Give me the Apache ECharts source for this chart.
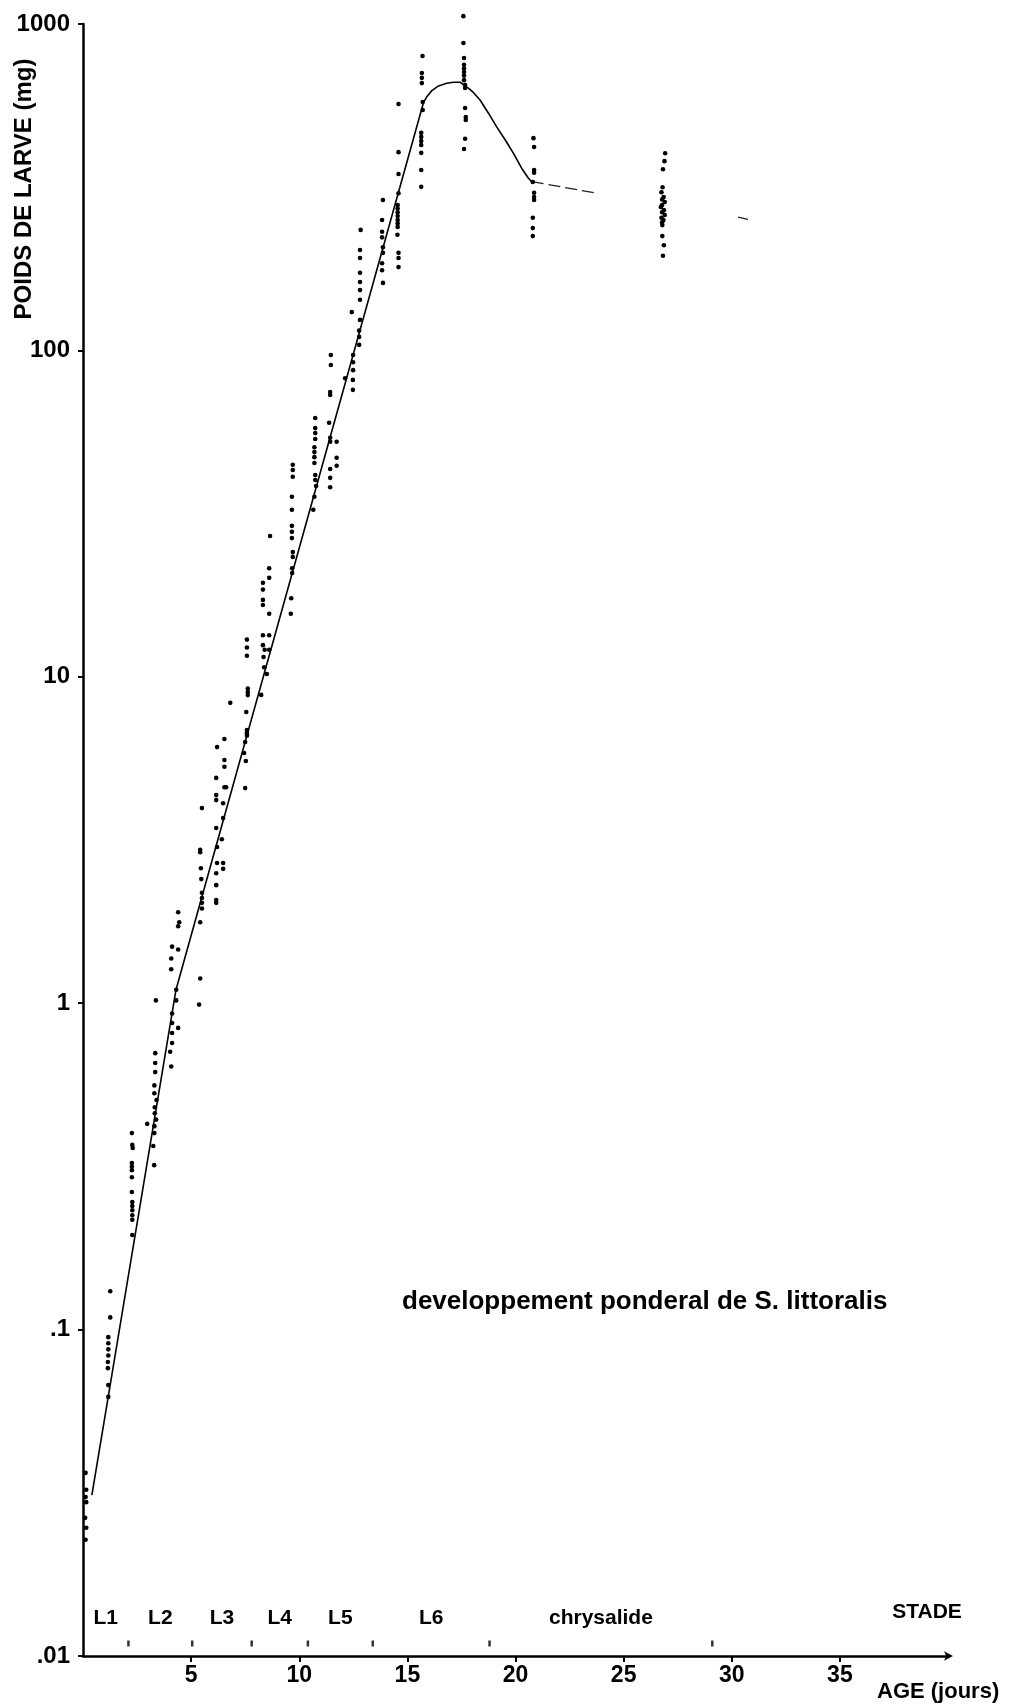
<!DOCTYPE html>
<html>
<head>
<meta charset="utf-8">
<title>developpement ponderal de S. littoralis</title>
<script src="https://cdn.jsdelivr.net/npm/echarts@6.0.0/dist/echarts.min.js"></script>
<style>
  html, body { margin: 0; padding: 0; background: #ffffff; }
  #chart { width: 1034px; height: 1708px; }
</style>
</head>
<body>
<div id="chart"></div>
<script>
// Individual larval / pupal weights (mg) against age (days)
const sampleDays = [
  // hatching
  0.12, 0.15, 0.12, 0.15, 0.1, 0.15, 0.12,
  // ~day 1
  1.26, 1.26, 1.17, 1.17, 1.17, 1.17, 1.15, 1.15, 1.17, 1.17,
  // ~day 2.3
  2.26, 2.28, 2.3, 2.26, 2.26, 2.26, 2.26, 2.26, 2.28, 2.28, 2.28, 2.28, 2.28, 2.28,
  // ~day 3.3
  3.37, 3.34, 3.34, 3.34, 3.3, 3.3, 3.4, 3.32, 3.32, 3.38, 3.3, 3.3, 2.97, 3.25, 3.29,
  // ~day 4.2
  4.4, 4.45, 4.4, 4.12, 4.4, 4.08, 4.08, 4.31, 4.31, 4.12, 4.12, 4.12, 4.12, 4.4, 4.03, 4.08,
  // ~day 5.4
  5.5, 5.42, 5.42, 5.45, 5.47, 5.5, 5.5, 5.5, 5.5, 5.42, 5.42, 5.37,
  // ~day 6.3
  6.2, 6.48, 6.16, 6.48, 6.16, 6.16, 6.16, 6.16, 6.2, 6.42, 6.48, 6.16, 6.16, 6.16,
  6.48, 6.54, 6.62, 6.54, 6.54, 6.2, 6.54, 6.81,
  // ~day 7.5
  7.58, 7.58, 7.58, 7.62, 7.62, 7.62, 7.55, 7.58, 7.58, 7.58, 7.5, 7.45, 7.53, 7.5,
  // ~day 8.4
  8.65, 8.61, 8.61, 8.32, 8.32, 8.32, 8.32, 8.61, 8.32, 8.61, 8.32, 8.4, 8.61, 8.35, 8.38, 8.5, 8.24,
  // ~day 9.7
  9.7, 9.7, 9.7, 9.66, 9.66, 9.66, 9.66, 9.66, 9.7, 9.7, 9.67, 9.67, 9.63, 9.61,
  // ~day 10.7
  10.74, 10.74, 10.74, 10.74, 10.7, 10.7, 10.7, 10.7, 10.74, 10.74, 10.78, 10.7, 10.65,
  // ~day 11.5
  11.38, 11.43, 11.43, 11.73, 11.73, 11.73, 11.43, 11.43, 11.43, 11.46, 11.46, 11.43, 11.43, 12.12,
  // ~day 12.5
  12.49, 12.49, 12.49, 12.48, 12.48, 12.43,
  // ~day 12.8
  12.77, 12.77, 12.77, 12.81, 12.81, 12.81, 12.81, 12.81, 12.84, 12.81, 12.81,
  // ~day 13.8
  13.87, 13.83, 13.83, 13.83, 13.87, 13.87, 13.83, 13.83, 13.87,
  // ~day 14.6
  14.59, 14.59, 14.59, 14.59, 14.55, 14.55, 14.55, 14.55, 14.55, 14.55, 14.55, 14.54, 14.59, 14.59, 14.59,
  // ~day 15.7
  15.7, 15.67, 15.67, 15.67, 15.71, 15.71, 15.64, 15.64, 15.64, 15.64, 15.64, 15.64, 15.64,
  // ~day 17.6
  17.59, 17.59, 17.62, 17.62, 17.62, 17.62, 17.62, 17.62, 17.67, 17.67, 17.67, 17.7, 17.7, 17.67, 17.62,
  // pupae ~day 20.8
  20.83, 20.86, 20.86, 20.86, 20.8, 20.86, 20.86, 20.86, 20.8, 20.8, 20.8,
  // pupae ~day 26.8
  26.92, 26.89, 26.82, 26.8, 26.75, 26.85, 26.78, 26.9, 26.78, 26.72, 26.86, 26.78, 26.9, 26.75,
  26.84, 26.78, 26.79, 26.79, 26.86, 26.82
];
const sampleWeights = [
  0.0364, 0.0323, 0.0307, 0.0296, 0.0265, 0.0247, 0.0227,
  0.131, 0.109, 0.0948, 0.0908, 0.087, 0.0833, 0.0796, 0.0762, 0.0676, 0.0622,
  0.4, 0.368, 0.36, 0.324, 0.316, 0.308, 0.293, 0.264, 0.246, 0.239, 0.232, 0.224, 0.217, 0.195,
  1.02, 0.703, 0.656, 0.615, 0.56, 0.53, 0.505, 0.48, 0.46, 0.44, 0.42, 0.4, 0.427, 0.365, 0.319,
  1.9, 1.77, 1.72, 1.49, 1.46, 1.37, 1.27, 1.1, 1.02, 0.93, 0.87, 0.81, 0.755, 0.84, 0.71, 0.64,
  3.96, 2.95, 2.9, 2.59, 2.4, 2.18, 2.1, 2.03, 1.95, 1.77, 1.19, 0.99,
  2.69, 2.69, 2.5, 2.58, 2.3, 2.07, 2.03, 3.44, 3.01, 3.18, 3.69, 4.9, 4.34, 4.19,
  4.1, 4.59, 4.59, 5.56, 5.3, 6.09, 6.45, 8.32,
  13.0, 12.3, 11.6, 9.2, 8.98, 8.79, 7.8, 6.87, 6.72, 6.6, 6.31, 5.84, 5.52, 4.56,
  27.0, 21.5, 20.1, 19.4, 18.5, 17.2, 16.6, 15.6, 13.4, 13.4, 12.5, 12.1, 12.1, 11.5, 10.7, 10.2, 8.8,
  44.6, 43.0, 41.0, 35.6, 32.5, 29.0, 27.8, 26.6, 24.1, 23.3, 21.5, 20.8, 17.4, 15.6,
  62.1, 57.8, 55.8, 53.5, 50.5, 48.8, 47.1, 45.2, 41.5, 40.1, 38.4, 35.6, 32.5,
  60.0, 54.0, 52.5, 52.5, 46.9, 44.3, 43.3, 40.7, 38.1, 96.8, 90.2, 74.6, 73.0, 82.2,
  96.8, 92.0, 87.0, 81.2, 75.7, 131,
  115, 110, 104, 124, 143, 153, 162, 173, 234, 203, 192,
  289, 251, 231, 222, 207, 199, 185, 176, 161,
  569, 405, 347, 303, 279, 272, 265, 258, 251, 245, 239, 226, 199, 192, 180,
  798, 708, 684, 659, 577, 545, 464, 451, 438, 426, 403, 357, 317,
  1057, 875, 787, 750, 730, 713, 695, 673, 650, 637, 553, 519, 508, 445, 414,
  447, 420, 357, 350, 328, 304, 295, 289, 255, 237, 224,
  402, 380, 359, 316, 305, 295, 290, 285, 279, 275, 269, 265, 260, 255,
  251, 247, 242, 224, 210, 195, 174
];

// Mean growth curve
const curveDays = [0.41, 4.3, 15.74, 15.9, 16.13, 16.44, 16.82, 17.13, 17.44, 17.82, 18.05,
  18.36, 18.75, 19.13, 19.52, 19.9, 20.29, 20.6, 20.75];
const curveWeights = [0.0311, 1.1, 573, 599, 625, 646, 658, 663, 663, 636, 617,
  585, 533, 484, 442, 402, 361, 337, 329];

// Pupal weight trend (interrupted)
const pupaDays = [20.75, 23.76, null, 30.29, 30.75];
const pupaWeights = [329, 303, null, 256, 252];

// Stage boundaries (days) and stage names
const stageBounds = [0, 2.1, 5.05, 7.8, 10.4, 13.4, 18.8, 29.1];
const stageNames = ['L1', 'L2', 'L3', 'L4', 'L5', 'L6', 'chrysalide'];

// Axis tick labels
const xTickValues = [5, 10, 15, 20, 25, 30, 35];
const yTickLabels = ['.01', '.1', '1', '10', '100', '1000'];

const FONT = "'Liberation Sans', Arial, Helvetica, sans-serif";

const samples = sampleDays.map((d, i) => [d, sampleWeights[i]]);
const curve = curveDays.map((d, i) => [d, curveWeights[i]]);
const pupa = pupaDays.map((d, i) => (d === null ? [null, null] : [d, pupaWeights[i]]));
const stageMarks = stageBounds.slice(1).map(d => [d, 0.01]);
const stageCentres = stageNames.map((n, i) => [(stageBounds[i] + stageBounds[i + 1]) / 2, 0.01]);

const chart = echarts.init(document.getElementById('chart'), null, { renderer: 'canvas' });

chart.setOption({
  animation: false,
  backgroundColor: '#ffffff',
  textStyle: { fontFamily: FONT, fontWeight: 'bold', color: '#000' },
  title: {
    text: 'developpement ponderal de S. littoralis',
    left: 402,
    top: 1289,
    padding: 0,
    textStyle: { fontFamily: FONT, fontWeight: 'bold', fontSize: 26, color: '#000' }
  },
  grid: { left: 83, right: 86, top: 24, bottom: 52, containLabel: false },
  xAxis: {
    type: 'value',
    min: 0,
    max: 40,
    interval: 5,
    name: 'AGE (jours)',
    nameLocation: 'end',
    nameGap: -71,
    nameTextStyle: {
      fontFamily: FONT, fontWeight: 'bold', fontSize: 22, color: '#000',
      align: 'left', verticalAlign: 'top', padding: [25, 0, 0, 0]
    },
    axisLine: {
      show: true,
      symbol: ['none', 'arrow'],
      symbolSize: [7, 9],
      symbolOffset: [0, 5],
      lineStyle: { color: '#000', width: 2.5 }
    },
    axisTick: {
      show: true, inside: false, length: 6,
      customValues: xTickValues,
      lineStyle: { color: '#000', width: 2 }
    },
    axisLabel: {
      show: true,
      customValues: xTickValues,
      margin: 8,
      fontFamily: FONT, fontWeight: 'bold', fontSize: 23, color: '#000',
      formatter: v => (xTickValues.indexOf(v) >= 0 ? String(v) : '')
    },
    splitLine: { show: false }
  },
  yAxis: {
    type: 'log',
    logBase: 10,
    min: 0.01,
    max: 1000,
    axisLine: { show: true, lineStyle: { color: '#000', width: 2.5 } },
    axisTick: { show: true, inside: false, length: 5, lineStyle: { color: '#000', width: 2 } },
    axisLabel: {
      show: true,
      margin: 13,
      fontFamily: FONT, fontWeight: 'bold', fontSize: 24, color: '#000',
      formatter: v => yTickLabels[Math.round(Math.log10(v)) + 2] || ''
    },
    splitLine: { show: false },
    minorTick: { show: false }
  },
  graphic: [
    {
      type: 'text',
      x: 24,
      y: 189,
      rotation: Math.PI / 2,
      style: {
        text: 'POIDS DE LARVE (mg)',
        font: 'bold 24px ' + FONT,
        fill: '#000',
        textAlign: 'center', align: 'center',
        textVerticalAlign: 'middle', verticalAlign: 'middle'
      }
    },
    {
      type: 'text',
      x: 927,
      y: 1612,
      style: {
        text: 'STADE',
        font: 'bold 21px ' + FONT,
        fill: '#000',
        textAlign: 'center', align: 'center',
        textVerticalAlign: 'middle', verticalAlign: 'middle'
      }
    }
  ],
  series: [
    {
      name: 'courbe',
      type: 'line',
      data: curve,
      showSymbol: false,
      symbol: 'none',
      smooth: false,
      clip: false,
      lineStyle: { color: '#000', width: 1.6 },
      z: 2
    },
    {
      name: 'chrysalide',
      type: 'line',
      data: pupa,
      showSymbol: false,
      symbol: 'none',
      connectNulls: false,
      clip: false,
      lineStyle: { color: '#222', width: 1.3, type: [12, 5] },
      z: 2
    },
    {
      name: 'poids',
      type: 'scatter',
      data: samples,
      symbol: 'circle',
      symbolSize: 4.6,
      clip: false,
      itemStyle: { color: '#000', opacity: 1 },
      z: 3
    },
    {
      name: 'limites',
      type: 'scatter',
      data: stageMarks,
      symbol: 'rect',
      symbolSize: [2.5, 6],
      symbolOffset: [0, -12.5],
      clip: false,
      silent: true,
      itemStyle: { color: '#000' },
      z: 3
    },
    {
      name: 'stades',
      type: 'scatter',
      data: stageCentres,
      symbolSize: 1,
      clip: false,
      silent: true,
      itemStyle: { color: '#fff', opacity: 0 },
      label: {
        show: true,
        position: 'top',
        distance: 0,
        offset: [0, -27],
        formatter: p => stageNames[p.dataIndex],
        fontFamily: FONT, fontWeight: 'bold', fontSize: 21, color: '#000',
        opacity: 1, textBorderWidth: 0
      },
      z: 3
    }
  ]
});
</script>
</body>
</html>
